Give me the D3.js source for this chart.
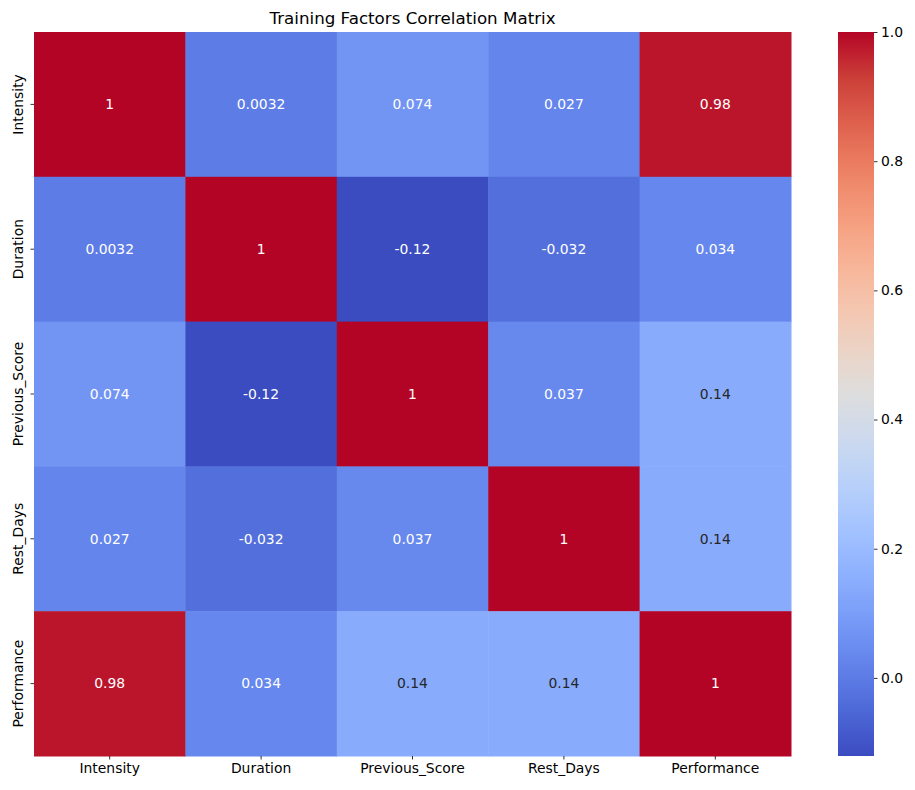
<!DOCTYPE html>
<html><head><meta charset="utf-8">
<script src="https://cdn.jsdelivr.net/npm/d3@7"></script>
<style>body{margin:0;background:#fff;} text{font-family:"DejaVu Sans",sans-serif;}</style>
</head><body>
<svg id="chart" width="915" height="790"></svg>
<script>
const labels = ["Intensity","Duration","Previous_Score","Rest_Days","Performance"];
const matrix = [
  [1, 0.0032, 0.074, 0.027, 0.98],
  [0.0032, 1, -0.1209, -0.032, 0.034],
  [0.074, -0.1209, 1, 0.037, 0.143],
  [0.027, -0.032, 0.037, 1, 0.144],
  [0.98, 0.034, 0.143, 0.144, 1]
];
const colorbarTicks = [0.0, 0.2, 0.4, 0.6, 0.8, 1.0];
const title = "Training Factors Correlation Matrix";
const vmin = -0.1209, vmax = 1.0;

// coolwarm anchors
const cw = [[59,76,192],[77,104,215],[98,130,234],[119,154,247],[141,176,254],[163,194,255],[184,208,249],[204,217,238],[221,221,221],[236,211,197],[245,196,173],[247,177,148],[244,154,123],[236,127,99],[222,96,77],[203,62,56],[180,4,38]];
const cwColors = cw.map(c => d3.rgb(c[0],c[1],c[2]).toString());
const coolwarm = d3.scaleLinear().domain(cw.map((c,i)=>i/(cw.length-1))).range(cwColors).interpolate(d3.interpolateRgb).clamp(true);
const norm = d3.scaleLinear().domain([vmin, vmax]).range([0,1]).clamp(true);
const color = v => coolwarm(norm(v));

const svg = d3.select("#chart");
const L = 34, R = 791, T = 32, B = 756;
const x = d3.scaleBand().domain(labels).range([L, R]).padding(0);
const y = d3.scaleBand().domain(labels).range([T, B]).padding(0);

const cells = [];
matrix.forEach((row,i)=>row.forEach((v,j)=>cells.push({r:labels[i], c:labels[j], v})));

svg.append("g").selectAll("rect").data(cells).join("rect")
  .attr("x", d=>x(d.c)).attr("y", d=>y(d.r))
  .attr("width", x.bandwidth()+0.5).attr("height", y.bandwidth()+0.5)
  .attr("fill", d=>color(d.v));

const fmt = d3.formatLocale({decimal:".",thousands:",",grouping:[3],currency:["",""],minus:"-"}).format(".2~g");
function lum(c){
  const rgb=d3.rgb(c);
  const f=u=>{u/=255;return u<=0.03928?u/12.92:Math.pow((u+0.055)/1.055,2.4);};
  return 0.2126*f(rgb.r)+0.7152*f(rgb.g)+0.0722*f(rgb.b);
}
svg.append("g").selectAll("text").data(cells).join("text")
  .attr("x", d=>x(d.c)+x.bandwidth()/2).attr("y", d=>y(d.r)+y.bandwidth()/2)
  .attr("text-anchor","middle").attr("dy","0.35em")
  .style("font-size","13.9px")
  .style("fill", d=> lum(color(d.v))>0.38 ? "#262626" : "#ffffff")
  .text(d=>fmt(d.v));

// x axis
const xa = svg.append("g").attr("transform",`translate(0,${B})`)
  .call(d3.axisBottom(x).tickSize(3.5).tickPadding(3.5));
xa.select(".domain").remove();
xa.selectAll("line").attr("stroke","#000").attr("stroke-width",0.8);
xa.selectAll("text").style("font-size","13.9px").attr("fill","#000").style("font-family","DejaVu Sans");

// y axis
const ya = svg.append("g").attr("transform",`translate(${L},0)`)
  .call(d3.axisLeft(y).tickSize(3.5).tickFormat(""));
ya.select(".domain").remove();
ya.selectAll("line").attr("stroke","#000").attr("stroke-width",0.8);
svg.append("g").selectAll("text").data(labels).join("text")
  .attr("transform", d=>`translate(18,${y(d)+y.bandwidth()/2}) rotate(-90)`)
  .attr("text-anchor","middle").attr("dy","0.35em")
  .style("font-size","13.9px").attr("fill","#000").text(d=>d);

// title
svg.append("text").attr("x",(L+R)/2).attr("y",24).attr("text-anchor","middle")
  .style("font-size","16.7px").attr("fill","#000").text(title);

// colorbar
const cbL = 838, cbR = 874;
const cy = d3.scaleLinear().domain([vmin, vmax]).range([B, T]);
const defs = svg.append("defs");
const grad = defs.append("linearGradient").attr("id","cbgrad").attr("x1",0).attr("y1",1).attr("x2",0).attr("y2",0);
d3.range(0,1.0001,1/64).forEach(t=>{
  grad.append("stop").attr("offset",t).attr("stop-color",coolwarm(t));
});
svg.append("rect").attr("x",cbL).attr("y",T).attr("width",cbR-cbL).attr("height",B-T).attr("fill","url(#cbgrad)");
const ca = svg.append("g").attr("transform",`translate(${cbR},0)`)
  .call(d3.axisRight(cy).tickValues(colorbarTicks).tickFormat(d3.format(".1f")).tickSize(3.5).tickPadding(3.5));
ca.select(".domain").remove();
ca.selectAll("line").attr("stroke","#000").attr("stroke-width",0.8);
ca.selectAll("text").style("font-size","13.9px").attr("fill","#000").style("font-family","DejaVu Sans");
</script>
</body></html>
